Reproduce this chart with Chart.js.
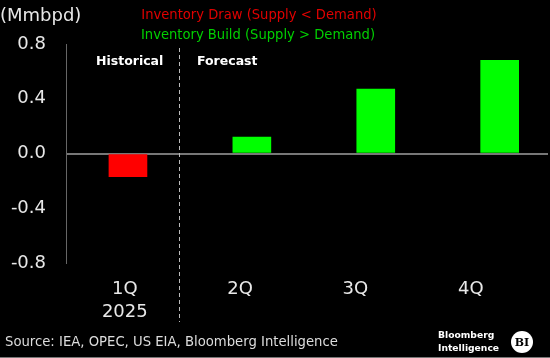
<!DOCTYPE html>
<html><head><meta charset="utf-8">
<script src="https://cdn.jsdelivr.net/npm/chart.js@4.4.1/dist/chart.umd.min.js"></script>
<style>html,body{margin:0;padding:0;background:#000;}#wrap{width:550px;height:358px;position:relative;}</style>
</head><body><div id="wrap"><canvas id="c" width="550" height="358"></canvas></div>
<script>
const categories = [['1Q','2025'], '2Q', '3Q', '4Q'];
const values = [-0.17, 0.12, 0.47, 0.68];
const yTicks = [-0.8, -0.4, 0.0, 0.4, 0.8];
const legendLabels = ['Inventory Draw (Supply < Demand)', 'Inventory Build (Supply > Demand)'];
const unitLabel = '(Mmbpd)';
const sourceText = 'Source: IEA, OPEC, US EIA, Bloomberg Intelligence';

const RED = '#ff0000', GREEN = '#00ff00';
const FONT = 'DejaVu Sans';

const overlay = {
  id: 'overlay',
  afterDraw(chart) {
    const ctx = chart.ctx;
    ctx.save();
    ctx.textBaseline = 'middle';
    ctx.fillStyle = '#e8e8e8';
    ctx.font = '18px "' + FONT + '"';
    ctx.textAlign = 'left';
    ctx.fillText(unitLabel, 0, 16);
    ctx.font = '14.6px "DejaVu Sans Condensed"';
    ctx.textAlign = 'center';
    ctx.fillStyle = '#e00000';
    ctx.fillText(legendLabels[0], 259, 15);
    ctx.fillStyle = '#00d000';
    ctx.fillText(legendLabels[1], 258, 35);
    ctx.fillStyle = '#ffffff';
    ctx.textAlign = 'left';
    ctx.font = 'bold 12.5px "' + FONT + '"';
    ctx.fillText('Historical', 96, 62);
    ctx.fillText('Forecast', 197, 62);
    // dashed divider
    ctx.strokeStyle = '#bbbbbb';
    ctx.lineWidth = 1;
    ctx.setLineDash([4, 3]);
    ctx.beginPath();
    ctx.moveTo(179.5, 48);
    ctx.lineTo(179.5, 322);
    ctx.stroke();
    ctx.setLineDash([]);
    // source
    ctx.fillStyle = '#dddddd';
    ctx.font = '14.7px "DejaVu Sans Condensed"';
    ctx.fillText(sourceText, 5, 342);
    // logo
    ctx.fillStyle = '#ffffff';
    ctx.font = 'bold 9.2px "' + FONT + '"';
    ctx.fillText('Bloomberg', 438, 336);
    ctx.fillText('Intelligence', 438, 349);
    ctx.beginPath();
    ctx.arc(522, 342, 11, 0, Math.PI * 2);
    ctx.fill();
    ctx.fillStyle = '#000';
    ctx.textAlign = 'center';
    ctx.font = 'bold 11px "DejaVu Serif"';
    ctx.fillText('BI', 522, 343);
    ctx.fillStyle = '#777';
    ctx.fillRect(0, 357, 550, 1);
    ctx.restore();
  }
};

new Chart(document.getElementById('c'), {
  type: 'bar',
  data: {
    datasets: [{
      data: values.map((v, i) => ({x: i, y: v})),
      backgroundColor: values.map(v => v < 0 ? RED : GREEN),
      borderWidth: 0,
      barThickness: 38,
      xAxisID: 'x',
      yAxisID: 'y'
    }]
  },
  options: {
    responsive: false,
    animation: false,
    layout: {padding: {left: 0, right: 2, top: 44, bottom: 0}},
    plugins: {legend: {display: false}, tooltip: {enabled: false}},
    scales: {
      x: {
        type: 'linear', min: -0.5, max: 3.39, display: false, offset: false,
        grid: {display: false}
      },
      x2: {
        type: 'linear', position: 'bottom', min: -0.51, max: 3.67, offset: false,
        afterBuildTicks(s) { s.ticks = categories.map((c, i) => ({value: i})); },
        afterFit(s) { s.height = 95; },
        grid: {display: false, drawTicks: false},
        border: {display: false},
        ticks: {
          color: '#e8e8e8', padding: 15, maxRotation: 0, autoSkip: false,
          font: {family: FONT, size: 18, lineHeight: 1.28},
          callback: v => categories[v]
        }
      },
      y: {
        min: -0.8, max: 0.8,
        afterBuildTicks(s) { s.ticks = yTicks.map(v => ({value: v})); },
        afterFit(s) { s.width = 66; },
        grid: {
          drawTicks: false,
          color: c => (c.tick && c.tick.value === 0) ? '#777777' : 'rgba(0,0,0,0)',
          lineWidth: 2
        },
        border: {display: true, color: '#666666', width: 1},
        ticks: {
          color: '#e8e8e8', padding: 20,
          font: {family: FONT, size: 18},
          callback: v => v.toFixed(1)
        }
      }
    }
  },
  plugins: [overlay]
});
</script></body></html>
